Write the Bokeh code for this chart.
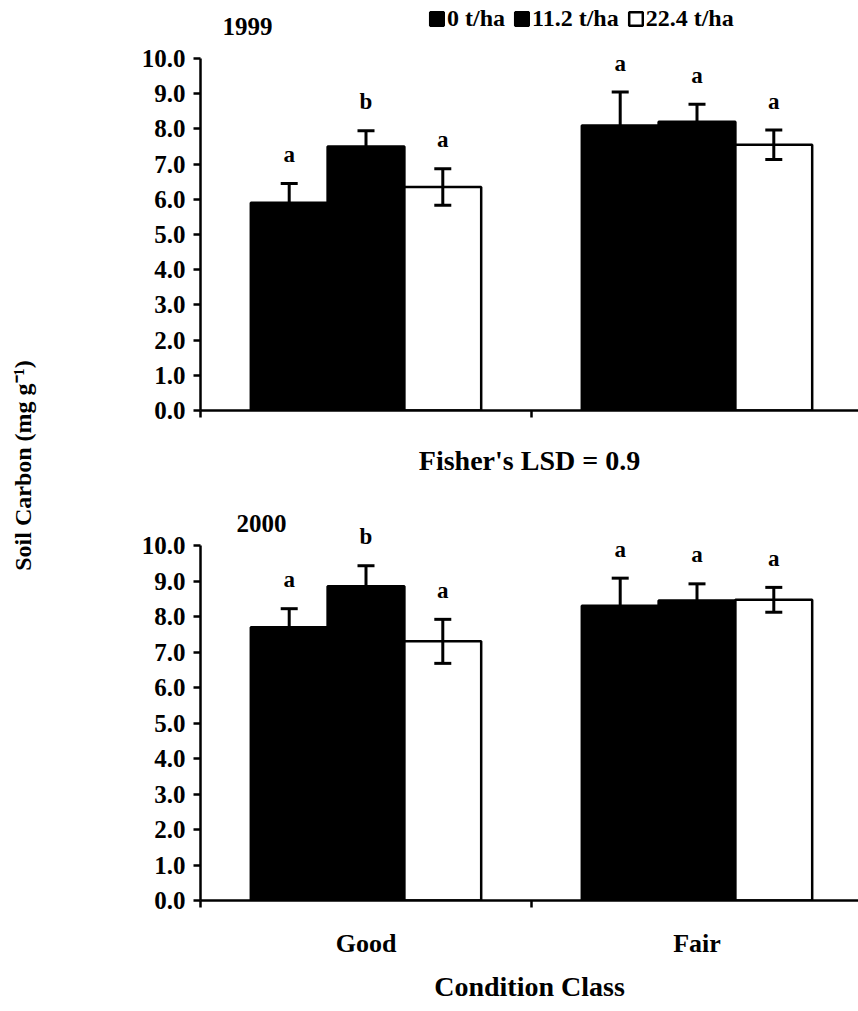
import numpy as np
from bokeh.plotting import figure
from bokeh.models import (ColumnDataSource, Whisker, TeeHead, Label, Legend, LegendItem,
                          FixedTicker, PrintfTickFormatter, Range1d)
from bokeh.layouts import row, column
from bokeh.embed import file_html
from bokeh.resources import INLINE
from bokeh.core.properties import value

# ---------------- data ----------------
categories = ["Good", "Fair"]
treatments = ["0 t/ha", "11.2 t/ha", "22.4 t/ha"]
y_ticks = [0, 1, 2, 3, 4, 5, 6, 7, 8, 9, 10]

soil_c_1999_0 = [5.9, 8.1]
soil_c_1999_11 = [7.5, 8.2]
soil_c_1999_22 = [6.35, 7.55]
err_1999_0 = [0.55, 0.95]
err_1999_11 = [0.45, 0.5]
err_1999_22 = [0.52, 0.42]
letters_1999_0 = ["a", "a"]
letters_1999_11 = ["b", "a"]
letters_1999_22 = ["a", "a"]

soil_c_2000_0 = [7.7, 8.3]
soil_c_2000_11 = [8.85, 8.45]
soil_c_2000_22 = [7.3, 8.47]
err_2000_0 = [0.52, 0.78]
err_2000_11 = [0.58, 0.47]
err_2000_22 = [0.62, 0.35]
letters_2000_0 = ["a", "a"]
letters_2000_11 = ["b", "a"]
letters_2000_22 = ["a", "a"]

# ---------------- style ----------------
FONT_NAME = "Liberation Serif"
FONT = value(FONT_NAME)
fills = ["black", "black", "white"]
offsets = [-0.232, 0.0, 0.232]
BAR_W = 0.232
X_END = 658 / 331.0


def style_text(obj, size):
    obj.text_font = FONT_NAME
    obj.text_font_style = "bold"
    obj.text_font_size = size
    obj.text_color = "black"


def make_panel(width, height, border_bottom, px_per_unit, vals, errs, lets, xlabel, bottom_labels):
    frame_h = height - border_bottom
    p = figure(width=width, height=height, output_backend="svg", toolbar_location=None,
               x_range=Range1d(0, X_END), y_range=Range1d(0, frame_h / px_per_unit),
               min_border_left=152, min_border_right=0, min_border_top=0,
               min_border_bottom=border_bottom, outline_line_color=None,
               background_fill_color="white", border_fill_color="white")
    p.grid.visible = False

    renderers = []
    for k in range(3):
        xs = [i + 0.5 + offsets[k] for i in range(len(categories))]
        up = [v + e for v, e in zip(vals[k], errs[k])]
        lo = [v - e for v, e in zip(vals[k], errs[k])]
        src = ColumnDataSource(dict(x=xs, top=vals[k], upper=up, lower=lo,
                                    ly=[u + 0.82 for u in up], lab=lets[k]))
        r = p.vbar(x="x", top="top", width=BAR_W, bottom=0, source=src,
                   fill_color=fills[k], line_color="black", line_width=2.5)
        renderers.append(r)
        w = Whisker(source=src, base="x", upper="upper", lower="lower",
                    line_width=3, line_color="black", level="annotation",
                    upper_head=TeeHead(size=17, line_width=3, line_color="black"),
                    lower_head=TeeHead(size=17, line_width=3, line_color="black"))
        p.add_layout(w)
        p.text(x="x", y="ly", text="lab", source=src, text_align="center",
               text_baseline="middle", text_font=FONT, text_font_style="bold",
               text_font_size="23px", text_color="black")

    # y axis
    ya = p.yaxis[0]
    ya.ticker = FixedTicker(ticks=y_ticks)
    ya.formatter = PrintfTickFormatter(format="%.1f")
    ya.bounds = (0, 10)
    ya.axis_line_width = 2.5
    ya.major_tick_line_width = 2.5
    ya.major_tick_out = 7
    ya.major_tick_in = 0
    ya.minor_tick_line_color = None
    ya.major_label_standoff = 8
    ya.major_label_text_font = FONT_NAME
    ya.major_label_text_font_style = "bold"
    ya.major_label_text_font_size = "25px"
    ya.major_label_text_color = "black"

    # x axis
    xa = p.xaxis[0]
    xa.axis_line_width = 2.5
    xa.minor_tick_line_width = 2.5
    xa.minor_tick_out = 7
    xa.minor_tick_in = 0
    xa.major_tick_out = 0
    xa.major_tick_in = 0
    bounds = list(range(len(categories) + 1))
    if bottom_labels:
        centers = [i + 0.5 for i in range(len(categories))]
        xa.ticker = FixedTicker(ticks=centers, minor_ticks=bounds)
        xa.major_label_overrides = {c: n for c, n in zip(centers, categories)}
        xa.major_label_standoff = 21
        xa.major_label_text_font = FONT_NAME
        xa.major_label_text_font_style = "bold"
        xa.major_label_text_font_size = "26px"
        xa.major_label_text_color = "black"
        xa.axis_label_standoff = 10
    else:
        xa.ticker = FixedTicker(ticks=[], minor_ticks=bounds)
        xa.axis_label_standoff = 27
    xa.axis_label = xlabel
    xa.axis_label_text_font = FONT_NAME
    xa.axis_label_text_font_style = "bold"
    xa.axis_label_text_font_size = "28px"
    xa.axis_label_text_color = "black"
    return p, renderers


top, top_r = make_panel(810, 490, 80, 35.2,
                        [soil_c_1999_0, soil_c_1999_11, soil_c_1999_22],
                        [err_1999_0, err_1999_11, err_1999_22],
                        [letters_1999_0, letters_1999_11, letters_1999_22],
                        "Fisher's LSD = 0.9", False)
bot, _ = make_panel(810, 521, 111, 35.5,
                    [soil_c_2000_0, soil_c_2000_11, soil_c_2000_22],
                    [err_2000_0, err_2000_11, err_2000_22],
                    [letters_2000_0, letters_2000_11, letters_2000_22],
                    "Condition Class", True)

# year labels
for fig, yr, xx, yy in [(top, "1999", 0.142, 10.9), (bot, "2000", 0.184, 10.62)]:
    lab = Label(x=xx, y=yy, text=yr, text_align="center", text_baseline="middle")
    style_text(lab, "25px")
    fig.add_layout(lab)

legend = Legend(items=[LegendItem(label=t, renderers=[r]) for t, r in zip(treatments, top_r)],
                orientation="horizontal", location=(228, 378),
                glyph_width=17, glyph_height=17, label_standoff=2, spacing=8,
                padding=0, margin=0, border_line_color=None, background_fill_alpha=0,
                label_text_font=FONT_NAME, label_text_font_style="bold",
                label_text_font_size="24px", label_text_color="black")
top.add_layout(legend)

# y-axis title spanning both panels
H = 1011
ylab = figure(width=48, height=H, output_backend="svg", toolbar_location=None,
              x_range=Range1d(0, 48), y_range=Range1d(0, H), min_border=0,
              x_axis_location=None, y_axis_location=None, outline_line_color=None)
ylab.grid.visible = False
yl = Label(x=22, y=H - 465, text="Soil Carbon (mg g\u207b\u00b9)", angle=np.pi / 2,
           text_align="center", text_baseline="middle")
style_text(yl, "24px")
ylab.add_layout(yl)

p = row(ylab, column(top, bot))
open("out.html", "w").write(file_html(p, INLINE))
